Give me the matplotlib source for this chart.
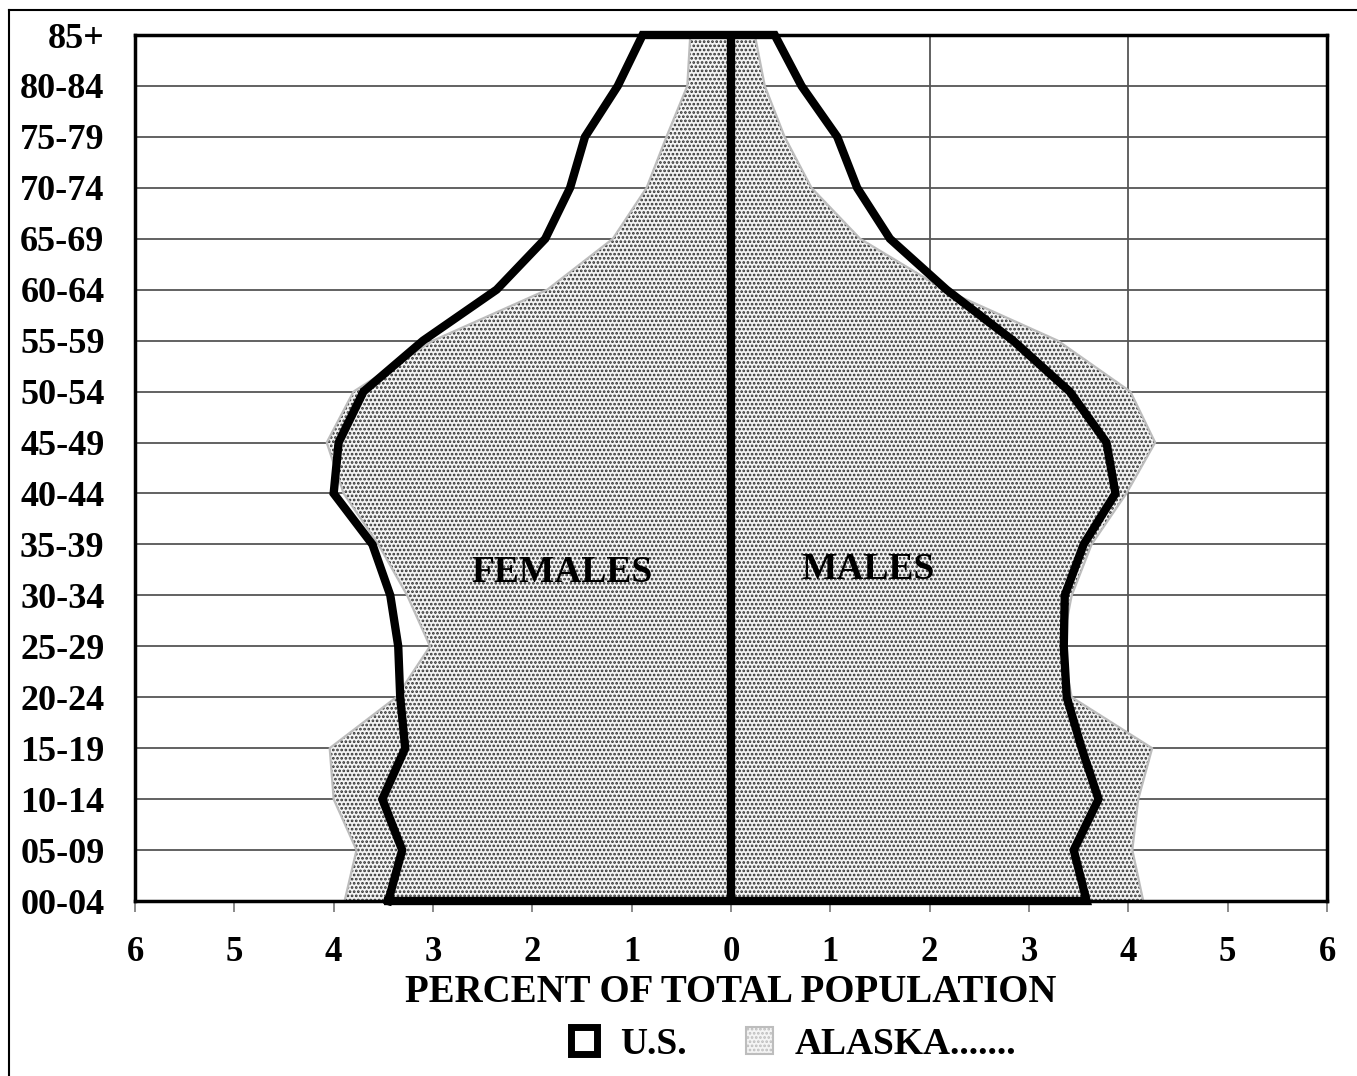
import matplotlib
matplotlib.use("Agg")
import matplotlib.pyplot as plt
import numpy as np
from matplotlib.patches import Patch
from matplotlib.lines import Line2D

age_groups = ["00-04", "05-09", "10-14", "15-19", "20-24", "25-29", "30-34", "35-39",
              "40-44", "45-49", "50-54", "55-59", "60-64", "65-69", "70-74", "75-79",
              "80-84", "85+"]
us_female = [3.45, 3.31, 3.51, 3.28, 3.33, 3.35, 3.43, 3.61, 4.00, 3.95, 3.70, 3.10,
             2.36, 1.87, 1.62, 1.47, 1.14, 0.89]
us_male = [3.58, 3.45, 3.70, 3.53, 3.38, 3.35, 3.36, 3.55, 3.87, 3.78, 3.41, 2.84,
           2.17, 1.60, 1.27, 1.07, 0.71, 0.44]
ak_female = [3.89, 3.77, 4.00, 4.04, 3.37, 3.03, 3.26, 3.55, 3.90, 4.07, 3.80, 3.00,
             1.85, 1.19, 0.85, 0.65, 0.44, 0.41]
ak_male = [4.15, 4.04, 4.10, 4.24, 3.43, 3.33, 3.43, 3.63, 3.98, 4.27, 4.02, 3.29,
           2.15, 1.30, 0.81, 0.54, 0.34, 0.24]
x_ticks = [-6, -5, -4, -3, -2, -1, 0, 1, 2, 3, 4, 5, 6]
x_tick_labels = ["6", "5", "4", "3", "2", "1", "0", "1", "2", "3", "4", "5", "6"]

plt.rcParams['font.family'] = ['Liberation Serif', 'DejaVu Serif']
plt.rcParams['font.weight'] = 'bold'
plt.rcParams['hatch.linewidth'] = 1.3

W, H = 1357, 1076
fig = plt.figure(figsize=(W / 100, H / 100), dpi=100)
ax = fig.add_axes([135 / W, 1 - 901 / H, (1327 - 135) / W, (901 - 35) / H])

y = np.arange(len(age_groups))
ak_f = np.array(ak_female)
ak_m = np.array(ak_male)
us_f = np.array(us_female)
us_m = np.array(us_male)

# grid
for yy in y:
    ax.axhline(yy, color='#555555', lw=1.3, zorder=1)
for xx in [2, 4]:
    ax.axvline(xx, color='#555555', lw=1.3, zorder=1)

# Alaska fill
fill_face = '#f4f4f4'
ax.fill_betweenx(y, -ak_f, ak_m, facecolor=fill_face, edgecolor='none', lw=0, zorder=2)
ax.fill_betweenx(y, -ak_f, ak_m, facecolor='none', edgecolor='#303030', hatch='....', lw=0, zorder=3)
ax.plot(-ak_f, y, color='#bdbdbd', lw=1.6, zorder=4)
ax.plot(ak_m, y, color='#bdbdbd', lw=1.6, zorder=4)

# U.S. outline
us_x = np.concatenate([-us_f, us_m[::-1], [-us_f[0]]])
us_y = np.concatenate([y, y[::-1], [y[0]]])
ax.plot(us_x, us_y, color='black', lw=6, solid_joinstyle='miter', zorder=5, clip_on=False)
ax.plot([0, 0], [y[0], y[-1]], color='black', lw=6, zorder=5)

ax.set_xlim(-6, 6)
ax.set_ylim(0, len(age_groups) - 1)
ax.set_yticks(y)
ax.set_yticklabels(age_groups, fontsize=26, fontweight='bold')
ax.set_xticks(x_ticks)
ax.set_xticklabels(x_tick_labels, fontsize=25, fontweight='bold')
ax.tick_params(axis='y', length=0, pad=22)
ax.tick_params(axis='x', length=8, width=1.2, color='#777777', pad=17)
for s in ax.spines.values():
    s.set_linewidth(2.5)
    s.set_color('black')
    s.set_zorder(6)
ax.set_xlabel("PERCENT OF TOTAL POPULATION", fontsize=28, fontweight='bold', labelpad=4)

ax.text(-1.7, 6.45, "FEMALES", fontsize=27, fontweight='bold', ha='center', va='center', zorder=7)
ax.text(1.38, 6.5, "MALES", fontsize=27, fontweight='bold', ha='center', va='center', zorder=7)

handles = [Patch(facecolor='white', edgecolor='black', linewidth=5),
           Patch(facecolor=fill_face, edgecolor='#bdbdbd', hatch='....', linewidth=1.5)]
fig.legend(handles, ["U.S.", "ALASKA......."], loc='center', ncol=2,
           bbox_to_anchor=(0.585, 1 - 1044 / H), frameon=False, fontsize=27,
           handlelength=0.7, handleheight=0.7, columnspacing=1.6, handletextpad=0.6)

# figure border (left and top)
fig.add_artist(Line2D([9 / W, 9 / W], [0, 1 - 10 / H], color='black', lw=1.5, transform=fig.transFigure))
fig.add_artist(Line2D([9 / W, 1], [1 - 10 / H, 1 - 10 / H], color='black', lw=1.5, transform=fig.transFigure))

fig.savefig("out.png", dpi=100)
